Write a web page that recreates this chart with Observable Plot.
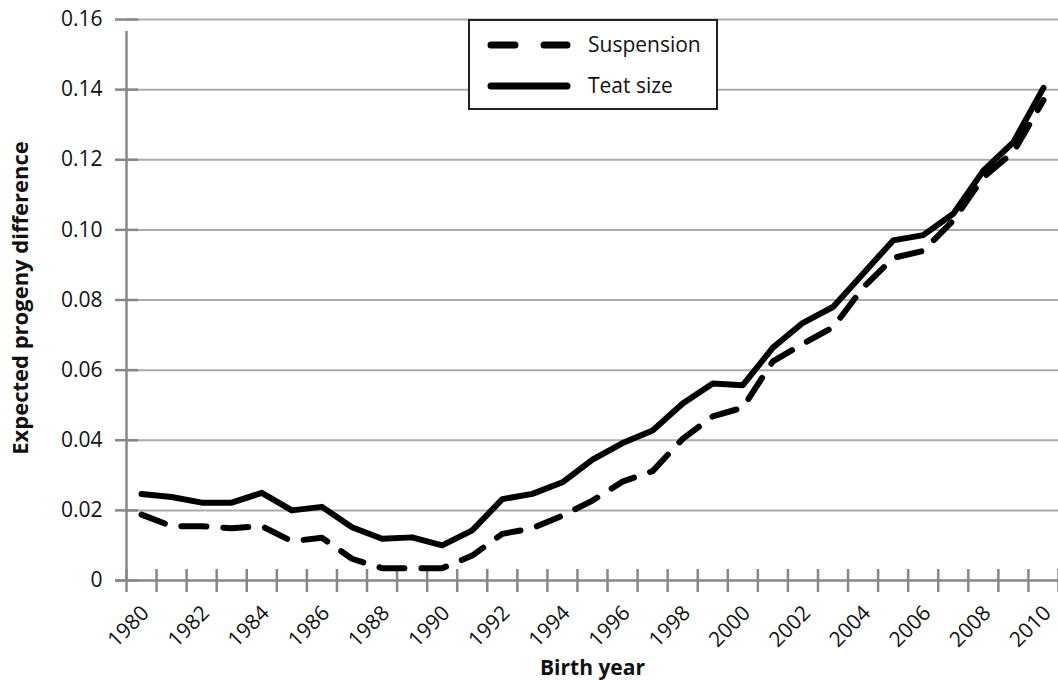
<!DOCTYPE html>
<html>
<head>
<meta charset="utf-8">
<script src="https://cdn.jsdelivr.net/npm/d3@7"></script>
<script src="https://cdn.jsdelivr.net/npm/@observablehq/plot@0.6"></script>
<style>
  html, body { margin: 0; padding: 0; background: #fff; }
  #wrap { position: relative; width: 1058px; height: 686px; font-family: "Open Sans", sans-serif; }
  #legend { position: absolute; left: 468px; top: 19px; width: 246px; height: 87px; border: 2px solid #222; background: #fff; }
  #legend svg { position: absolute; left: 0; top: 0; }
</style>
</head>
<body>
<div id="wrap"><div id="chart"></div><div id="legend"></div></div>
<script>
// Data
const years = [1980, 1981, 1982, 1983, 1984, 1985, 1986, 1987, 1988, 1989, 1990,
  1991, 1992, 1993, 1994, 1995, 1996, 1997, 1998, 1999, 2000,
  2001, 2002, 2003, 2004, 2005, 2006, 2007, 2008, 2009, 2010];
const suspension = [0.0188, 0.0155, 0.0155, 0.0149, 0.0155, 0.0112, 0.0122, 0.0062, 0.0035, 0.0035, 0.0035,
  0.0071, 0.0133, 0.0149, 0.0185, 0.0228, 0.0282, 0.0312, 0.0404, 0.0468, 0.0493,
  0.0625, 0.0675, 0.0722, 0.0835, 0.0920, 0.0940, 0.1027, 0.1150, 0.1222, 0.1370];
const teatSize = [0.0247, 0.0238, 0.0222, 0.0222, 0.0250, 0.0200, 0.0210, 0.0152, 0.0119, 0.0123, 0.0100,
  0.0143, 0.0232, 0.0247, 0.0280, 0.0345, 0.0392, 0.0428, 0.0505, 0.0562, 0.0557,
  0.0664, 0.0735, 0.0780, 0.0875, 0.0970, 0.0985, 0.1046, 0.1169, 0.1250, 0.1405];
const yTicks = [0, 0.02, 0.04, 0.06, 0.08, 0.10, 0.12, 0.14, 0.16];
const xTickLabels = [1980, 1982, 1984, 1986, 1988, 1990, 1992, 1994, 1996, 1998, 2000,
  2002, 2004, 2006, 2008, 2010];
const seriesNames = ["Suspension", "Teat size"];
const yTitle = "Expected progeny difference";
const xTitle = "Birth year";

// category boundaries (Excel-style category axis ticks between categories)
const boundaries = years.map(y => y - 0.5).concat([years[years.length - 1] + 0.5]);

const axisColor = "#878787";
const gridColor = "#ababab";
const font = "Open Sans";

const plot = Plot.plot({
  width: 1058,
  height: 686,
  marginLeft: 126,
  marginRight: 0,
  marginTop: 19,
  marginBottom: 106,
  style: { fontFamily: font, background: "#fff", color: "#111" },
  x: { type: "linear", domain: [boundaries[0], boundaries[boundaries.length - 1]], axis: null },
  y: { domain: [0, 0.16], axis: null },
  marks: [
    // gridlines
    Plot.ruleY(yTicks.filter(d => d > 0), { stroke: gridColor, strokeWidth: 2 }),
    // y axis ticks (crossing) + labels
    Plot.axisY({
      ticks: yTicks, tickSize: 23, dx: 12, tickPadding: 13,
      tickFormat: d => d === 0 ? "0" : d.toFixed(2),
      stroke: axisColor, strokeWidth: 2.5, fontSize: 21, fill: "#111"
    }),
    // x axis ticks (crossing)
    Plot.axisX({
      ticks: boundaries, tickSize: 23, dy: -11, tickFormat: () => "",
      stroke: axisColor, strokeWidth: 2.5
    }),
    // axis lines
    Plot.ruleX([boundaries[0]], { y1: 0, y2: 0.16, stroke: axisColor, strokeWidth: 2.5, insetBottom: -12 }),
    Plot.ruleY([0], { stroke: axisColor, strokeWidth: 2.5, insetLeft: -11 }),
    // x tick labels (rotated)
    Plot.text(xTickLabels, {
      x: d => d, text: d => String(d), frameAnchor: "bottom", lineAnchor: "middle",
      rotate: -45, textAnchor: "end", dx: 4, dy: 29, fontSize: 21, fill: "#111"
    }),
    // series
    Plot.line(suspension, {
      x: years, y: d => d, stroke: "#000", strokeWidth: 6,
      strokeDasharray: "25,17", strokeLinecap: "round", strokeLinejoin: "round"
    }),
    Plot.line(teatSize, {
      x: years, y: d => d, stroke: "#000", strokeWidth: 6,
      strokeLinecap: "round", strokeLinejoin: "round"
    }),
    // axis titles
    Plot.text([yTitle], {
      frameAnchor: "left", textAnchor: "middle", rotate: -90, dx: -106, dy: -2, fontSize: 22,
      fontWeight: "bold", fill: "#111", lineAnchor: "middle"
    }),
    Plot.text([xTitle], {
      frameAnchor: "bottom", textAnchor: "middle", dy: 88, fontSize: 21, fontWeight: "bold",
      fill: "#111", lineAnchor: "middle"
    })
  ]
});
document.getElementById("chart").appendChild(plot);

// Legend (overlay box)
const lg = d3.select("#legend").append("svg").attr("width", 246).attr("height", 87)
  .style("font-family", font);
const legendItems = [
  { name: seriesNames[0], dash: "24,29", y: 24 },
  { name: seriesNames[1], dash: null, y: 65 }
];
legendItems.forEach(it => {
  const ln = lg.append("line").attr("x1", 21).attr("x2", 97).attr("y1", it.y).attr("y2", it.y)
    .attr("stroke", "#000").attr("stroke-width", 7).attr("stroke-linecap", "round");
  if (it.dash) ln.attr("stroke-dasharray", it.dash);
  lg.append("text").attr("x", 118).attr("y", it.y).attr("dy", "0.35em")
    .attr("font-size", 21).attr("fill", "#111").text(it.name);
});
</script>
</body>
</html>
